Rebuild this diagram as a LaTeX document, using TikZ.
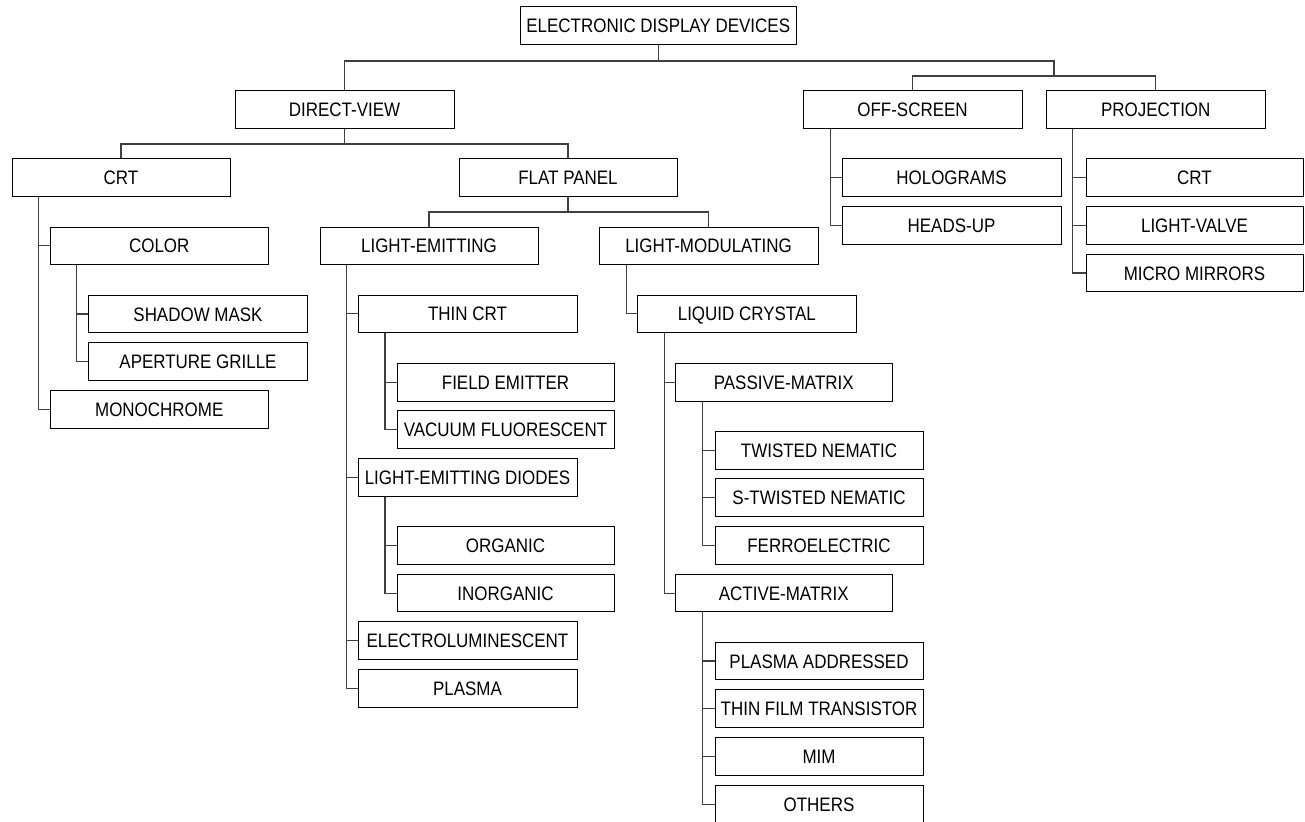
\documentclass[tikz,border=0pt]{standalone}
\usepackage{fontspec}
\setmainfont{Liberation Sans}[FakeStretch=0.87]
\begin{document}
\begin{tikzpicture}[x=1pt,y=-1pt,
  box/.style={draw=black,line width=1pt,fill=white,minimum height=37.6pt,minimum width=218pt,inner sep=0pt,
    text height=14pt,text depth=0pt,font=\fontsize{19.5}{23}\selectfont},
  conn/.style={draw=black!75,line width=1.2pt}]
\useasboundingbox (0,0) rectangle (1305,821);
\clip (0,0) rectangle (1305,821);
% nodes
\node[box,minimum width=276.5pt,minimum height=38pt] (root) at (658.25,26) {ELECTRONIC DISPLAY DEVICES};
\node[box,minimum width=219pt] (dv) at (344.5,109.5) {DIRECT-VIEW};
\node[box,minimum width=219pt] (os) at (912.5,109.5) {OFF-SCREEN};
\node[box,minimum width=219.5pt] (pj) at (1155.75,109.5) {PROJECTION};
\node[box] (crt) at (121,177.5) {CRT};
\node[box] (fp) at (568,177.5) {FLAT PANEL};
\node[box,minimum width=219pt] (hol) at (951.5,177.5) {HOLOGRAMS};
\node[box,minimum width=219pt] (hud) at (951.5,225.3) {HEADS-UP};
\node[box,minimum width=217pt] (crtp) at (1194.5,177.5) {CRT};
\node[box,minimum width=217pt] (lv) at (1194.5,225.3) {LIGHT-VALVE};
\node[box,minimum width=217pt] (mm) at (1194.5,273) {MICRO MIRRORS};
\node[box,minimum width=218.5pt] (color) at (159.25,245.8) {COLOR};
\node[box] (le) at (429,245.8) {LIGHT-EMITTING};
\node[box,minimum width=219pt] (lm) at (708.5,245.8) {LIGHT-MODULATING};
\node[box,minimum width=219.3pt] (sm) at (198,314) {SHADOW MASK};
\node[box,minimum width=219.3pt] (ag) at (198,361.6) {APERTURE GRILLE};
\node[box,minimum width=218.5pt] (mono) at (159.25,409.2) {MONOCHROME};
\node[box,minimum width=219pt] (tcrt) at (467.5,313.8) {THIN CRT};
\node[box,minimum width=218.4pt] (lc) at (746.8,313.8) {LIQUID CRYSTAL};
\node[box,minimum width=217pt] (fe) at (505.5,382.3) {FIELD EMITTER};
\node[box,minimum width=217pt] (vf) at (505.5,429.7) {VACUUM FLUORESCENT};
\node[box,minimum width=216.5pt] (pm) at (783.75,382.3) {PASSIVE-MATRIX};
\node[box,minimum width=208pt] (tn) at (819,450.2) {TWISTED NEMATIC};
\node[box,minimum width=208pt] (stn) at (819,497.7) {S-TWISTED NEMATIC};
\node[box,minimum width=208pt] (fer) at (819,545.3) {FERROELECTRIC};
\node[box,minimum width=219pt] (led) at (467.5,477.5) {LIGHT-EMITTING DIODES};
\node[box,minimum width=217pt] (org) at (505.5,545.5) {ORGANIC};
\node[box,minimum width=217pt] (inorg) at (505.5,593.1) {INORGANIC};
\node[box,minimum width=216.5pt] (am) at (783.75,593.1) {ACTIVE-MATRIX};
\node[box,minimum width=219pt] (el) at (467.5,640.4) {ELECTROLUMINESCENT};
\node[box,minimum width=219pt] (pl) at (467.5,688.2) {PLASMA};
\node[box,minimum width=208pt] (pa) at (819,661) {PLASMA ADDRESSED};
\node[box,minimum width=208pt] (tft) at (819,708.7) {THIN FILM TRANSISTOR};
\node[box,minimum width=208pt] (mim) at (819,756.4) {MIM};
\node[box,minimum width=208pt] (oth) at (819,804.3) {OTHERS};
% bus connectors
\coordinate (rb) at (root.south |- 0,61);
\coordinate (rj) at (1054,76);
\draw[conn] (root.south) -- (rb);
\draw[conn] (dv.north) |- (rb) -| (rj);
\draw[conn] (os.north) |- (rj);
\draw[conn] (pj.north) |- (rj);
\coordinate (dvb) at (dv.south |- 0,144);
\draw[conn] (dv.south) -- (dvb);
\draw[conn] (crt.north) |- (dvb) -| (fp.north);
\coordinate (fpb) at (fp.south |- 0,212);
\draw[conn] (fp.south) -- (fpb);
\draw[conn] (le.north) |- (fpb) -| (lm.north);
% list connectors
\coordinate (crtL) at ([xshift=27.2pt]crt.south west);
\draw[conn] (crtL) |- (mono.west);
\draw[conn] (crtL |- color.west) -- (color.west);
\coordinate (colL) at ([xshift=27pt]color.south west);
\draw[conn] (colL) |- (ag.west);
\draw[conn] (colL |- sm.west) -- (sm.west);
\coordinate (leL) at ([xshift=27pt]le.south west);
\draw[conn] (leL) |- (pl.west);
\draw[conn] (leL |- tcrt.west) -- (tcrt.west);
\draw[conn] (leL |- led.west) -- (led.west);
\draw[conn] (leL |- el.west) -- (el.west);
\coordinate (tcL) at ([xshift=27.5pt]tcrt.south west);
\draw[conn] (tcL) |- (vf.west);
\draw[conn] (tcL |- fe.west) -- (fe.west);
\coordinate (ledL) at ([xshift=27.5pt]led.south west);
\draw[conn] (ledL) |- (inorg.west);
\draw[conn] (ledL |- org.west) -- (org.west);
\coordinate (lmL) at ([xshift=28pt]lm.south west);
\draw[conn] (lmL) |- (lc.west);
\coordinate (lcL) at ([xshift=27.4pt]lc.south west);
\draw[conn] (lcL) |- (am.west);
\draw[conn] (lcL |- pm.west) -- (pm.west);
\coordinate (pmL) at ([xshift=27.5pt]pm.south west);
\draw[conn] (pmL) |- (fer.west);
\draw[conn] (pmL |- tn.west) -- (tn.west);
\draw[conn] (pmL |- stn.west) -- (stn.west);
\coordinate (amL) at ([xshift=27.5pt]am.south west);
\draw[conn] (amL) |- (oth.west);
\draw[conn] (amL |- pa.west) -- (pa.west);
\draw[conn] (amL |- tft.west) -- (tft.west);
\draw[conn] (amL |- mim.west) -- (mim.west);
\coordinate (osL) at ([xshift=28pt]os.south west);
\draw[conn] (osL) |- (hud.west);
\draw[conn] (osL |- hol.west) -- (hol.west);
\coordinate (pjL) at ([xshift=27pt]pj.south west);
\draw[conn] (pjL) |- (mm.west);
\draw[conn] (pjL |- crtp.west) -- (crtp.west);
\draw[conn] (pjL |- lv.west) -- (lv.west);
\end{tikzpicture}
\end{document}
